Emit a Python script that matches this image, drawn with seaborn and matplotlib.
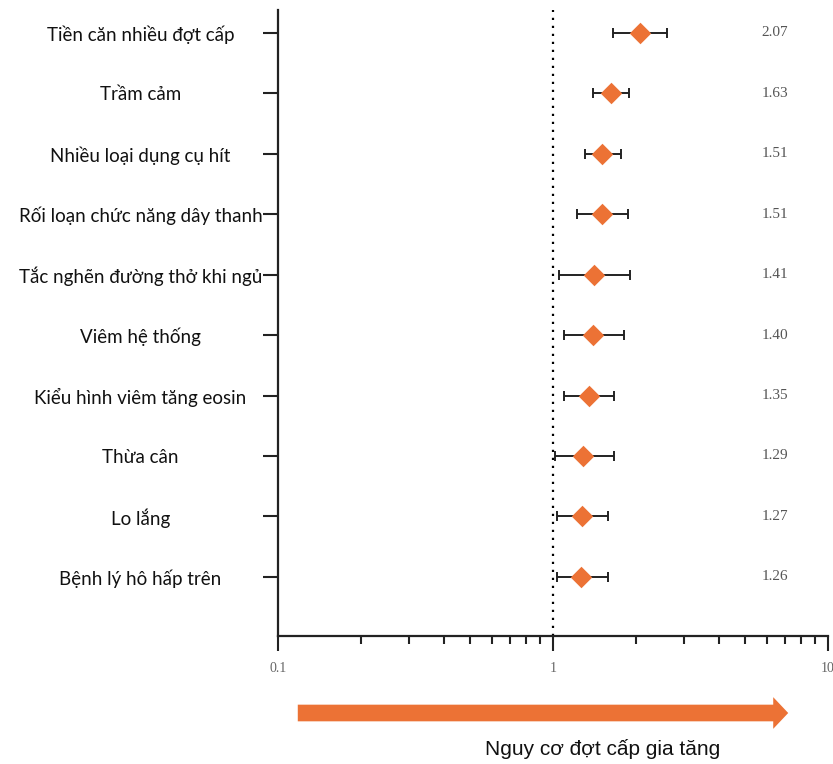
import numpy as np
import pandas as pd
import matplotlib
matplotlib.use('Agg')
import matplotlib.pyplot as plt
import seaborn as sns
from matplotlib.patches import FancyArrowPatch

# Data
factors = ['Tiền căn nhiều đợt cấp', 'Trầm cảm', 'Nhiều loại dụng cụ hít',
           'Rối loạn chức năng dây thanh', 'Tắc nghẽn đường thở khi ngủ',
           'Viêm hệ thống', 'Kiểu hình viêm tăng eosin', 'Thừa cân',
           'Lo lắng', 'Bệnh lý hô hấp trên']
odds_ratio = [2.07, 1.63, 1.51, 1.51, 1.41, 1.40, 1.35, 1.29, 1.27, 1.26]
ci_low = [1.65, 1.40, 1.31, 1.22, 1.05, 1.10, 1.10, 1.02, 1.03, 1.03]
ci_high = [2.59, 1.89, 1.77, 1.87, 1.91, 1.81, 1.66, 1.66, 1.58, 1.58]
x_ticks = [0.1, 1, 10]
x_tick_labels = ['0.1', '1', '10']
arrow_label = 'Nguy cơ đợt cấp gia tăng'

ORANGE = '#EC7235'
DARK = '#222222'

sns.set_theme(style='white')
plt.rcParams['font.family'] = ['Lato', 'DejaVu Sans']

df = pd.DataFrame({'factor': factors, 'or': odds_ratio,
                   'lo': ci_low, 'hi': ci_high})
df['pos'] = np.arange(len(df))

fig = plt.figure(figsize=(8.33, 7.64), dpi=100)
ax = fig.add_axes([278 / 833, 1 - 636 / 764, 550 / 833, 626 / 764])

# dotted reference line at OR = 1
ax.axvline(1, color='black', lw=1.6, ls=(0, (1, 2.6)), zorder=1)

# confidence intervals
ax.errorbar(df['or'], df['pos'],
            xerr=[df['or'] - df['lo'], df['hi'] - df['or']],
            fmt='none', ecolor=DARK, elinewidth=1.4, capsize=3.6,
            capthick=1.4, zorder=2)

# point estimates
sns.scatterplot(data=df, x='or', y='pos', marker='D', s=120,
                color=ORANGE, edgecolor=ORANGE, linewidth=0, zorder=3,
                ax=ax, legend=False)

ax.set_xscale('log')
ax.set_xlim(0.1, 10)
ax.set_ylim(len(df) - 0.02, -0.38)

# value labels on the right
for _, row in df.iterrows():
    ax.text(6.4, row['pos'], f"{row['or']:.2f}", ha='center', va='center',
            fontsize=11, color='#555555', family='Liberation Serif')

ax.set_yticks(df['pos'])
ax.set_yticklabels(df['factor'], fontsize=13.5, color='#111111', ha='center')
ax.tick_params(axis='y', left=True, length=11, width=1.5, color=DARK, pad=88)

ax.set_xticks(x_ticks)
ax.set_xticklabels(x_tick_labels, family='Liberation Serif', fontsize=10,
                   color='#666666')
ax.tick_params(axis='x', which='major', bottom=True, length=11, width=1.5,
               color=DARK, pad=8, direction='out')
ax.tick_params(axis='x', which='minor', bottom=True, length=6, width=1.5,
               color=DARK, direction='out')

for side in ['top', 'right']:
    ax.spines[side].set_visible(False)
for side in ['left', 'bottom']:
    ax.spines[side].set_linewidth(1.6)
    ax.spines[side].set_color(DARK)
ax.set_xlabel('')
ax.set_ylabel('')

# direction arrow under the axis
arrow = FancyArrowPatch((295 / 833, 1 - 713 / 764), (791 / 833, 1 - 713 / 764),
                        transform=fig.transFigure,
                        arrowstyle='simple,head_length=0.9,head_width=1.9,tail_width=1.0',
                        mutation_scale=12, color=ORANGE, lw=0)
fig.add_artist(arrow)
fig.text(603 / 833, 1 - 749 / 764, arrow_label, ha='center', va='center',
         fontsize=15, family='Liberation Sans', color='#111111')

fig.savefig('out.png', dpi=100)
